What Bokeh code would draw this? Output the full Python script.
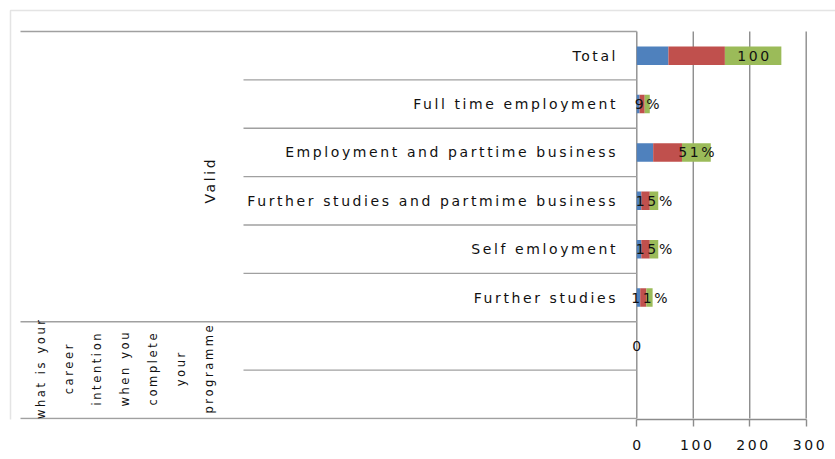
import numpy as np
from bokeh.plotting import figure
from bokeh.models import Range1d, FixedTicker, BoxAnnotation
from bokeh.core.properties import value
from bokeh.embed import file_html
from bokeh.resources import INLINE

# ---------------- data ----------------
categories = ["Total", "Full time employment", "Employment and parttime business",
              "Further studies and partmime business", "Self emloyment", "Further studies", "", ""]
frequency = [56, 5, 29, 8, 8, 6, 0, 0]
percent = [100, 9, 51, 15, 15, 11, 0, 0]
valid_percent = [100, 9, 51, 15, 15, 11, 0, 0]
data_labels = ["100", "9%", "51%", "15%", "15%", "11%", "0", ""]
group_label = "Valid"
question_lines = ["what is your", "career", "intention", "when you", "complete", "your", "programme"]
x_ticks = [0, 100, 200, 300]

# ---------------- layout ----------------
W, H = 835, 459
FONT = "DejaVu Sans"
FS = 14
QFS = 11.5
LS = 2.6                     # letter spacing (px)
X0_PX, X300_PX = 636.3, 805.7
k = (X300_PX - X0_PX) / 300.0
xs = -X0_PX / k
xe = xs + W / k
PT, PB = 31, 418
BOTTOM = 40
FH = H - BOTTOM
n = len(categories)
rh = (PB - PT) / n
y_bot = (FH - PT) / rh
y_top = -PT / rh


def px_x(px):
    return xs + px / k


def px_y(py):
    return (py - PT) / rh


rows = [i + 0.5 for i in range(n)]
f = np.array(frequency, float)
pc = np.array(percent, float)
vp = np.array(valid_percent, float)

p = figure(width=W, height=H, output_backend="svg", toolbar_location=None,
           x_range=Range1d(xs, xe), y_range=Range1d(y_bot, y_top),
           y_axis_location=None, min_border_left=0, min_border_right=0,
           min_border_top=0, min_border_bottom=BOTTOM)
p.outline_line_color = None
p.xgrid.grid_line_color = None
p.ygrid.grid_line_color = None
p.background_fill_color = "white"
p.border_fill_color = "white"
p.styles = {"letter-spacing": f"{LS}px"}

BORDER = "#a6a6a6"
# outer chart border
p.add_layout(BoxAnnotation(left=10, right=W + 50, top=10, bottom=H + 50,
                           left_units="canvas", right_units="canvas",
                           top_units="canvas", bottom_units="canvas",
                           fill_color=None, line_color=BORDER, line_width=1.5))

GRID = "#8c8c8c"
# vertical gridlines (incl. category axis at 0)
p.multi_line(xs=[[t, t] for t in x_ticks], ys=[[0, n] for _ in x_ticks],
             line_color=GRID, line_width=1.4)

# category separators
bounds = list(range(n + 1))
starts = [px_x(20) if b in (0, 6, n) else px_x(243) for b in bounds]
p.multi_line(xs=[[s, 0] for s in starts], ys=[[b, b] for b in bounds],
             line_color="#a0a0a0", line_width=1.4)

# stacked bars
BH = 0.38
p.hbar(y=rows, left=0, right=f, height=BH, fill_color="#4F81BD", line_color=None)
p.hbar(y=rows, left=f, right=f + pc, height=BH, fill_color="#C0504D", line_color=None)
p.hbar(y=rows, left=f + pc, right=f + pc + vp, height=BH, fill_color="#9BBB59", line_color=None)

# data labels centred on last segment
lab_x = list(f + pc + vp / 2)
p.text(x=lab_x, y=rows, text=data_labels, text_align="center", text_baseline="middle",
       x_offset=[-(len(s) - 1) * LS / 2 for s in data_labels],
       text_font=value(FONT), text_font_size=f"{FS}px", text_color="#111111")

# level-1 category labels
p.text(x=[px_x(615)] * n, y=rows, text=categories, text_align="right", text_baseline="middle",
       x_offset=[-(len(s) - 1) * LS for s in categories],
       text_font=value(FONT), text_font_size=f"{FS}px", text_color="#111111")

# level-2 label "Valid" (rows 0-5)
p.text(x=[px_x(209)], y=[px_y(181)], text=[group_label], angle=np.pi / 2,
       text_align="center", text_baseline="middle",
       y_offset=[(len(group_label) - 1) * LS / 2],
       text_font=value(FONT), text_font_size=f"{FS}px", text_color="#111111")

# question label, wrapped, rotated (rows 6-7)
q_x = [px_x(40 + 28 * i) for i in range(len(question_lines))]
p.text(x=q_x, y=[px_y(369)] * len(question_lines), text=question_lines, angle=np.pi / 2,
       text_align="center", text_baseline="middle",
       y_offset=[(len(s) - 1) * LS / 2 for s in question_lines],
       text_font=value(FONT), text_font_size=f"{QFS}px", text_color="#111111")

# x axis
ax = p.xaxis[0]
ax.ticker = FixedTicker(ticks=x_ticks)
ax.bounds = (0, 300)
ax.axis_line_color = GRID
ax.axis_line_width = 1.4
ax.major_tick_line_color = GRID
ax.major_tick_line_width = 1.4
ax.major_tick_out = 7
ax.major_tick_in = 0
ax.minor_tick_line_color = None
ax.major_label_standoff = 13
ax.major_label_text_font = FONT
ax.major_label_text_font_size = f"{FS}px"
ax.major_label_text_color = "#111111"

open("out.html", "w").write(file_html(p, INLINE))
